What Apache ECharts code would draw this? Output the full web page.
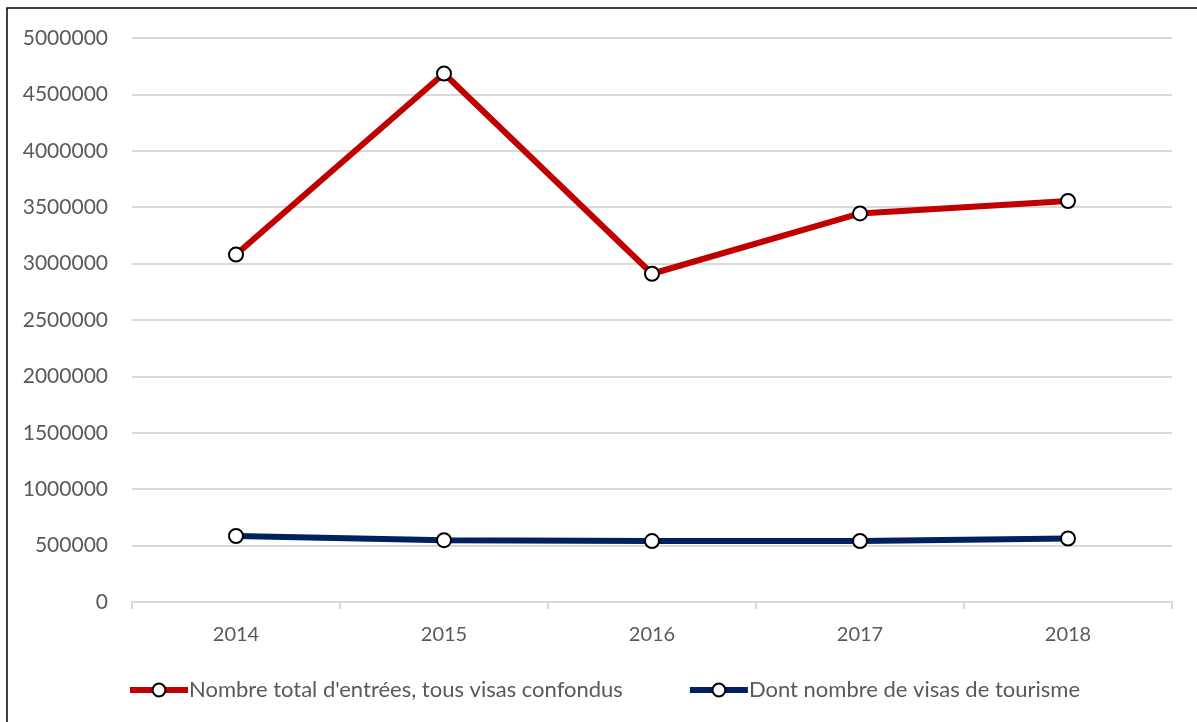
<!DOCTYPE html>
<html>
<head>
	<meta charset="UTF-8">
	<title>Entrées et visas de tourisme</title>
	<style>
		* { margin: 0; padding: 0; }
		body { background: #fff; }
		#charts { width: 1197px; height: 722px; }
	</style>
</head>
<body>
	<div id="charts"></div>
</body>
<script src="https://cdn.jsdelivr.net/npm/echarts@6/dist/echarts.min.js"></script>
<script>
	// données
	var annees = ['2014', '2015', '2016', '2017', '2018'];
	var totalEntrees = [3080000, 4685000, 2910000, 3445000, 3555000];
	var visasTourisme = [585000, 548000, 540000, 541000, 563000];
	var nomTotal = "Nombre total d'entrées, tous visas confondus";
	var nomTourisme = 'Dont nombre de visas de tourisme';

	var police = 'Lato, "Open Sans", sans-serif';
	var gris = '#595959';

	var mycharts = echarts.init(document.getElementById('charts'));

	function serie(nom, data, couleur) {
		return {
			name: nom,
			type: 'line',
			data: data,
			symbol: 'circle',
			symbolSize: 14,
			lineStyle: { color: couleur, width: 6 },
			itemStyle: { color: '#fff', borderColor: '#000', borderWidth: 2 },
			emphasis: { disabled: true }
		};
	}

	var option = {
		animation: false,
		// cadre noir autour du graphique
		graphic: [{
			type: 'rect',
			shape: { x: 7, y: 8, width: 1200, height: 730 },
			style: { fill: 'none', stroke: '#000', lineWidth: 1.5 },
			silent: true
		}],
		grid: { left: 132, right: 25, top: 38, bottom: 120 },
		legend: {
			left: 122,
			top: 674,
			itemWidth: 58,
			itemHeight: 16,
			itemGap: 64,
			lineStyle: { width: 6 },
			textStyle: { color: gris, fontSize: 22, fontFamily: police, padding: [0, 0, 0, -4] },
			data: [nomTotal, nomTourisme]
		},
		xAxis: {
			type: 'category',
			data: annees,
			boundaryGap: true,
			axisLine: { lineStyle: { color: '#d9d9d9', width: 2 } },
			axisTick: { show: true, length: 7, lineStyle: { color: '#d9d9d9', width: 2 } },
			axisLabel: { color: gris, fontSize: 20, fontFamily: police, margin: 23 }
		},
		yAxis: {
			type: 'value',
			min: 0,
			max: 5000000,
			interval: 500000,
			axisLine: { show: false },
			axisTick: { show: false },
			axisLabel: {
				color: gris, fontSize: 21, fontFamily: police, margin: 24,
				formatter: function (v) { return String(v); }
			},
			splitLine: { lineStyle: { color: '#d9d9d9', width: 2 } }
		},
		series: [
			serie(nomTotal, totalEntrees, '#c00000'),
			serie(nomTourisme, visasTourisme, '#002060')
		]
	};

	mycharts.setOption(option);
</script>
</html>
